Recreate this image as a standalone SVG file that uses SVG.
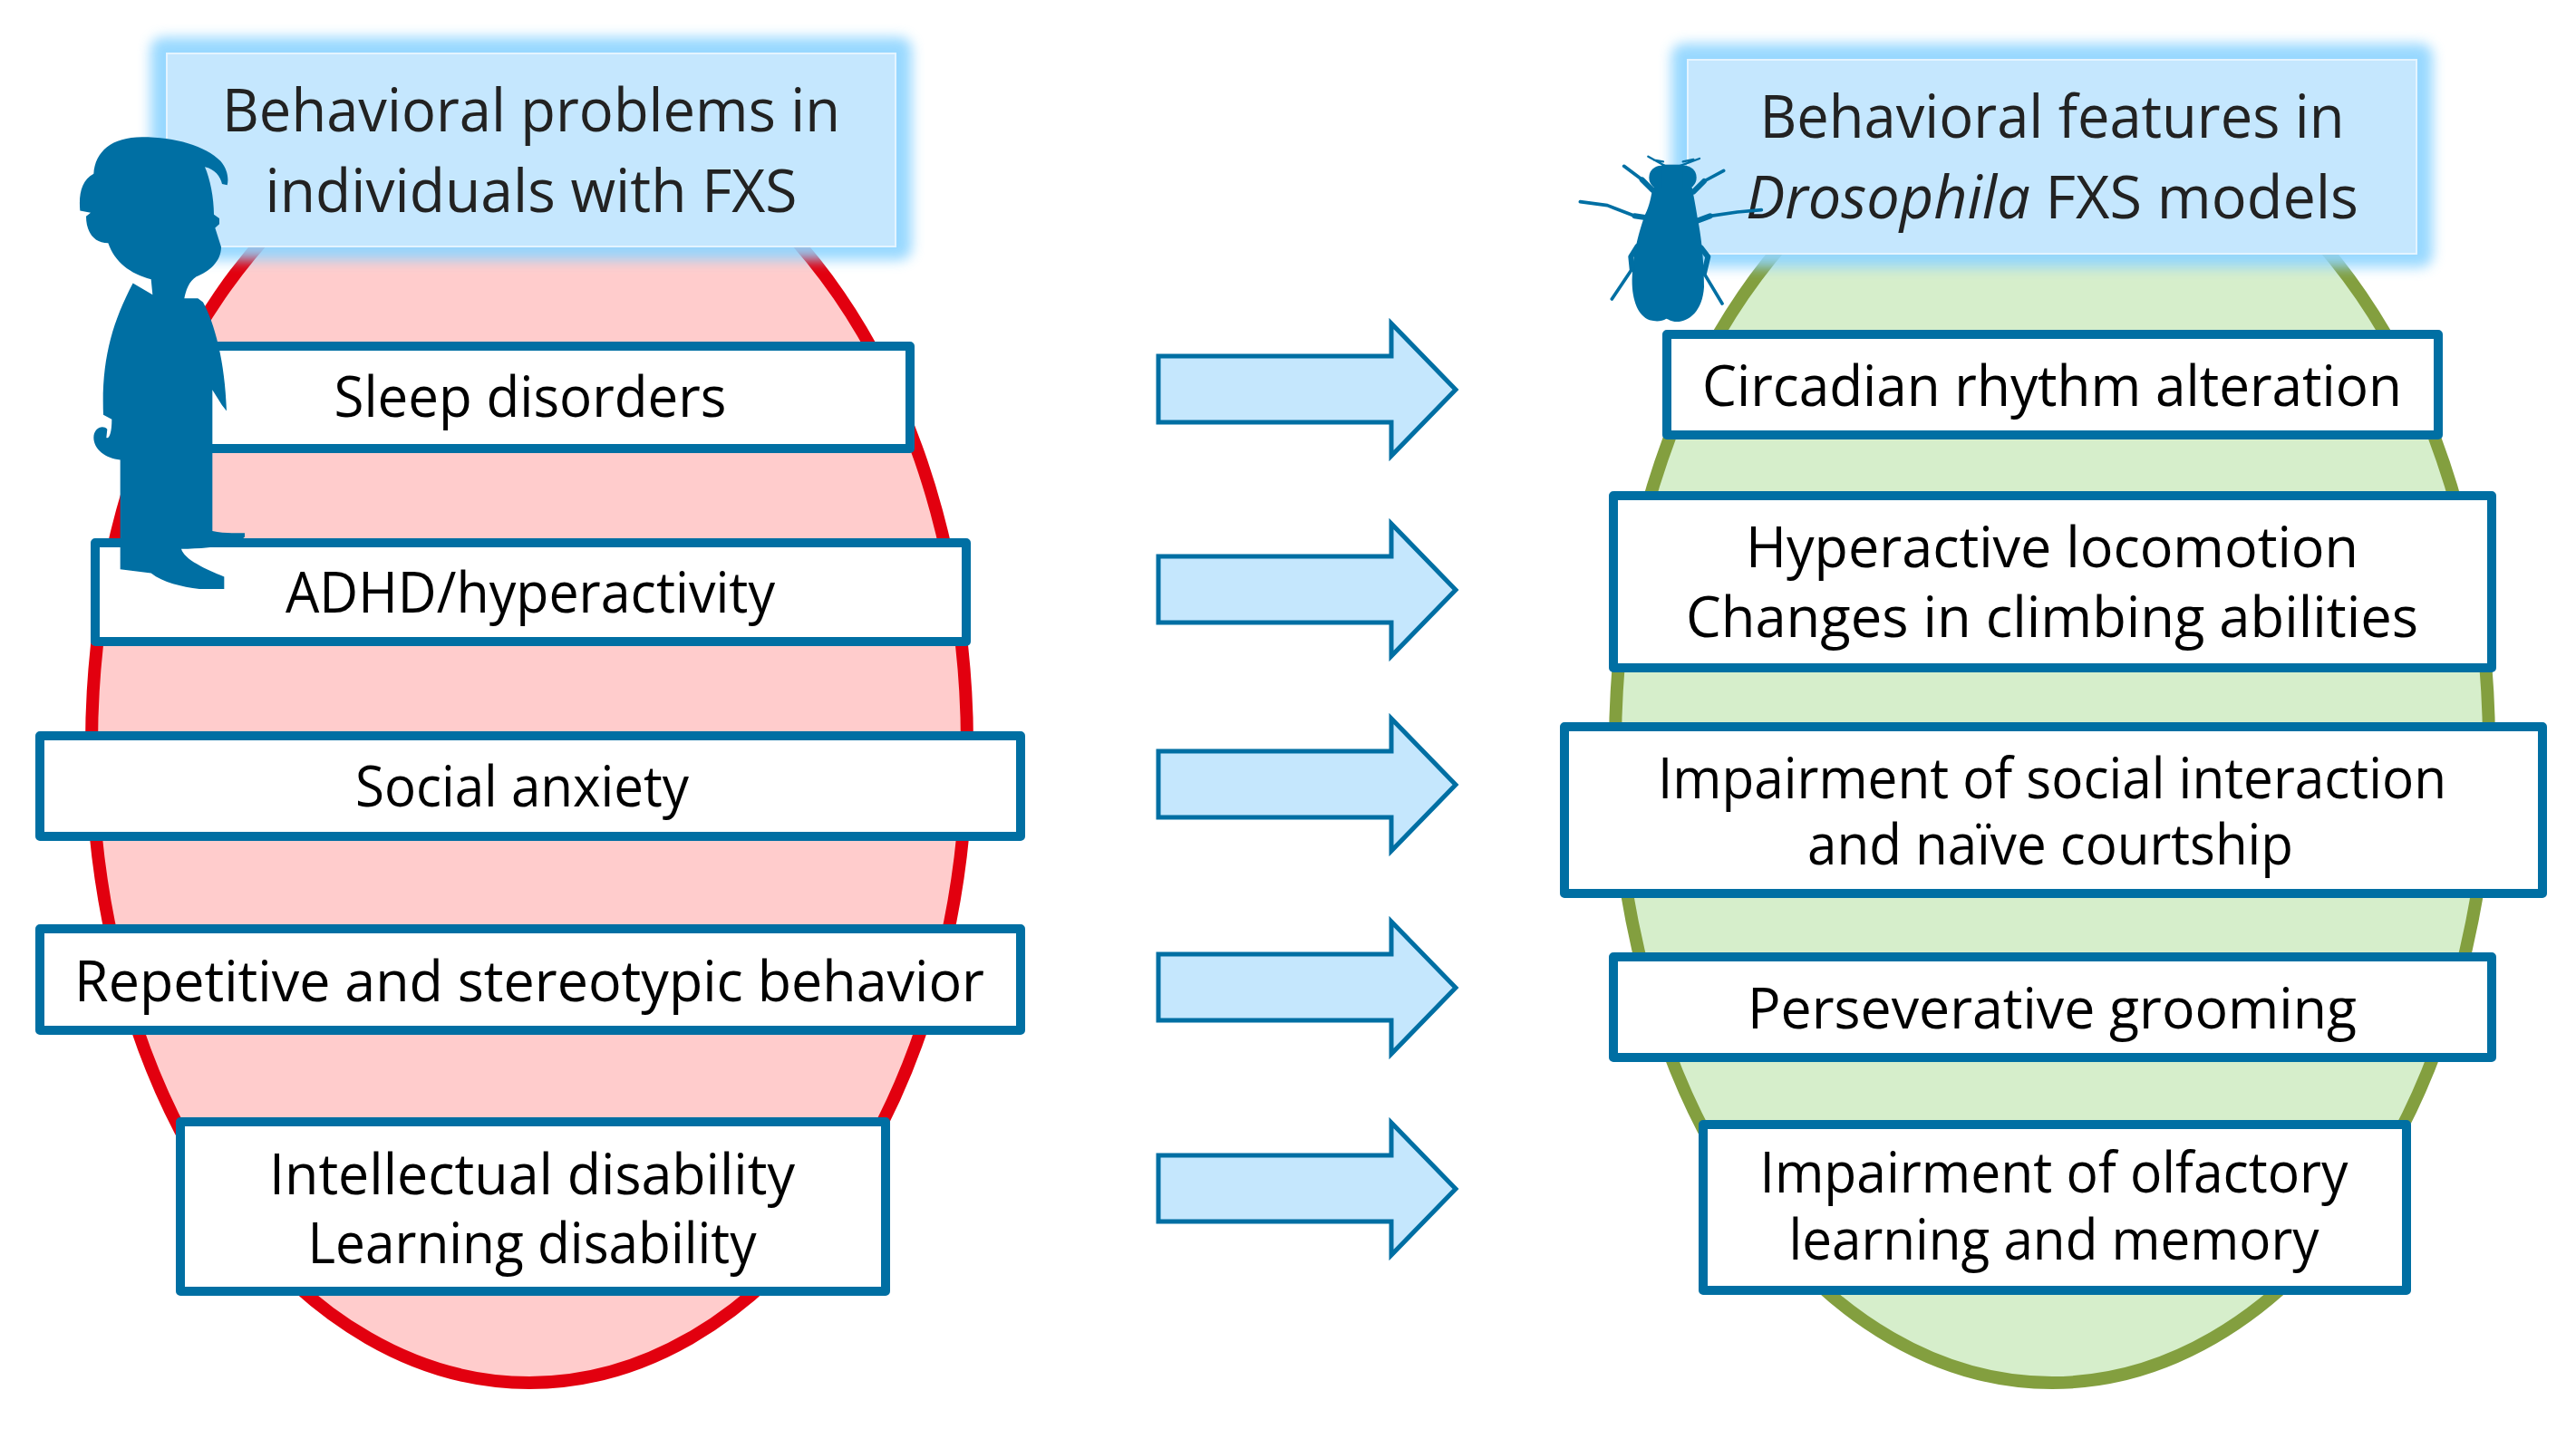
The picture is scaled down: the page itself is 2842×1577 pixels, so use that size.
<svg xmlns="http://www.w3.org/2000/svg" width="2842" height="1577" viewBox="0 0 2842 1577">
<style>
text{font-family:"Open Sans","Noto Sans","Liberation Sans",sans-serif;text-anchor:middle;fill:#000;font-size:62px}
.h text,text.h{fill:#222;font-size:66px}
.box{fill:#fff;stroke:#006fa3;stroke-width:10;stroke-linejoin:round}
.head{fill:#c5e7fe;stroke:#e4f4ff;stroke-width:2}
.glow{fill:#90d5ff;filter:url(#blur);opacity:.92}
.arrow{fill:#c5e7fd;stroke:#006fa3;stroke-width:5}
.sil{fill:#006fa3}
.leg{fill:none;stroke:#006fa3;stroke-linecap:round;stroke-linejoin:round}
</style>
<defs>
<filter id="blur" x="-10%" y="-30%" width="120%" height="160%"><feGaussianBlur stdDeviation="7"/></filter>
<polygon id="arr" points="1278,393 1535,393 1535,357 1606,430 1535,503 1535,466 1278,466"/>
</defs>
<rect width="2842" height="1577" fill="#fff"/>
<g id="ellipse-left"><ellipse cx="584" cy="823" rx="483" ry="703" fill="#ffcccc" stroke="#e2000f" stroke-width="14"/></g>
<g id="ellipse-right"><ellipse cx="2264" cy="823" rx="482" ry="703" fill="#d6eecb" stroke="#839f3f" stroke-width="14"/></g>

<g id="header-left">
<rect class="glow" x="166" y="41" width="840" height="246" rx="14"/>
<rect class="head" x="184" y="59" width="804" height="213"/>
<text class="h" x="586" y="145" textLength="682" lengthAdjust="spacingAndGlyphs">Behavioral problems in</text>
<text class="h" x="586" y="234" textLength="587" lengthAdjust="spacingAndGlyphs">individuals with FXS</text>
</g>
<g id="header-right">
<rect class="glow" x="1844" y="48" width="840" height="247" rx="14"/>
<rect class="head" x="1862" y="66" width="804" height="214"/>
<text class="h" x="2264" y="152" textLength="645" lengthAdjust="spacingAndGlyphs">Behavioral features in</text>
<text class="h" x="2264" y="241" textLength="676" lengthAdjust="spacingAndGlyphs"><tspan font-style="italic">Drosophila</tspan> FXS models</text>
</g>

<g id="node-sleep"><rect class="box" x="162" y="382" width="842" height="113"/><text x="585" y="460" textLength="433" lengthAdjust="spacingAndGlyphs">Sleep disorders</text></g>
<g id="node-adhd"><rect class="box" x="105" y="599" width="961" height="109"/><text x="585" y="676" textLength="540" lengthAdjust="spacingAndGlyphs">ADHD/hyperactivity</text></g>
<g id="node-anxiety"><rect class="box" x="44" y="812" width="1082" height="111"/><text x="576" y="890" textLength="368" lengthAdjust="spacingAndGlyphs">Social anxiety</text></g>
<g id="node-repetitive"><rect class="box" x="44" y="1025" width="1082" height="112"/><text x="584" y="1105" textLength="1004" lengthAdjust="spacingAndGlyphs">Repetitive and stereotypic behavior</text></g>
<g id="node-intellectual"><rect class="box" x="199" y="1238" width="778" height="187"/><text x="587" y="1318" textLength="580" lengthAdjust="spacingAndGlyphs">Intellectual disability</text><text x="587" y="1394" textLength="495" lengthAdjust="spacingAndGlyphs">Learning disability</text></g>

<g id="node-circadian"><rect class="box" x="1839" y="369" width="851" height="111"/><text x="2264" y="448" textLength="772" lengthAdjust="spacingAndGlyphs">Circadian rhythm alteration</text></g>
<g id="node-locomotion"><rect class="box" x="1780" y="547" width="969" height="190"/><text x="2264" y="626" textLength="676" lengthAdjust="spacingAndGlyphs">Hyperactive locomotion</text><text x="2264" y="703" textLength="808" lengthAdjust="spacingAndGlyphs">Changes in climbing abilities</text></g>
<g id="node-social"><rect class="box" x="1726" y="802" width="1079" height="184"/><text x="2264" y="881" textLength="870" lengthAdjust="spacingAndGlyphs">Impairment of social interaction</text><text x="2262" y="954" textLength="536" lengthAdjust="spacingAndGlyphs">and naïve courtship</text></g>
<g id="node-grooming"><rect class="box" x="1780" y="1056" width="969" height="111"/><text x="2264" y="1135" textLength="672" lengthAdjust="spacingAndGlyphs">Perseverative grooming</text></g>
<g id="node-olfactory"><rect class="box" x="1879" y="1241" width="776" height="183"/><text x="2266" y="1316" textLength="649" lengthAdjust="spacingAndGlyphs">Impairment of olfactory</text><text x="2266" y="1390" textLength="585" lengthAdjust="spacingAndGlyphs">learning and memory</text></g>

<g id="connectors">
<use href="#arr" class="arrow"/>
<use href="#arr" class="arrow" y="221"/>
<use href="#arr" class="arrow" y="436"/>
<use href="#arr" class="arrow" y="660"/>
<use href="#arr" class="arrow" y="882"/>
</g>

<g id="person" transform="translate(60,20) scale(.33333,.42088)">
<path class="sil" d="M290,312 C400,312 500,335 550,375 C572,395 578,420 572,438 L555,435 C550,415 530,395 498,390 C515,420 528,470 528,515 L546,525 L546,540 L532,550 L552,600 C552,640 510,665 470,678 C445,690 435,715 430,735 L475,735 L492,745 C530,800 565,900 570,1030 L555,1015 L523,975 L523,1345 C560,1352 600,1350 630,1350 L630,1360 C600,1385 500,1390 420,1392 C430,1420 500,1445 562,1465 L562,1497 L480,1497 C420,1490 360,1480 320,1455 L218,1445 L218,1158 C170,1155 130,1130 130,1100 C130,1075 160,1065 175,1078 L172,1100 C180,1105 190,1090 190,1052 L162,1040 C155,900 190,800 260,695 L325,725 L320,685 C250,670 200,640 178,590 C130,590 105,560 105,520 L120,510 L85,505 C80,460 90,425 130,408 C135,350 190,312 290,312 Z"/>
</g>
<g id="fly" transform="translate(1700,30) scale(.33333)">
<circle class="sil" cx="398" cy="498" r="40"/><circle class="sil" cx="475" cy="498" r="40"/>
<rect class="sil" x="400" y="455" width="70" height="80"/>
<path class="sil" d="M370,530 L500,530 C510,580 515,610 520,640 C530,690 540,770 540,860 C535,940 490,975 450,975 C430,975 420,965 415,965 C400,975 380,975 360,970 C320,955 300,900 302,830 C305,740 330,660 345,620 C360,590 365,560 370,530 Z"/>
<path class="leg" stroke-width="18" d="M370,540 L335,505 M505,545 L540,510 M345,630 L310,625 M520,640 L560,625 M320,725 L298,760 L302,800 M530,730 L553,760 L540,815"/>
<path class="leg" stroke-width="11" d="M335,505 L275,460 M540,510 L605,475 M310,625 L220,590 L130,578 M560,625 L650,612 L730,605 M302,800 L235,900 M540,815 L600,915"/>
<path class="leg" stroke-width="7" d="M412,460 L355,428 M458,460 L525,435 M405,445 L375,440 M470,445 L505,438"/>
</g>
</svg>
